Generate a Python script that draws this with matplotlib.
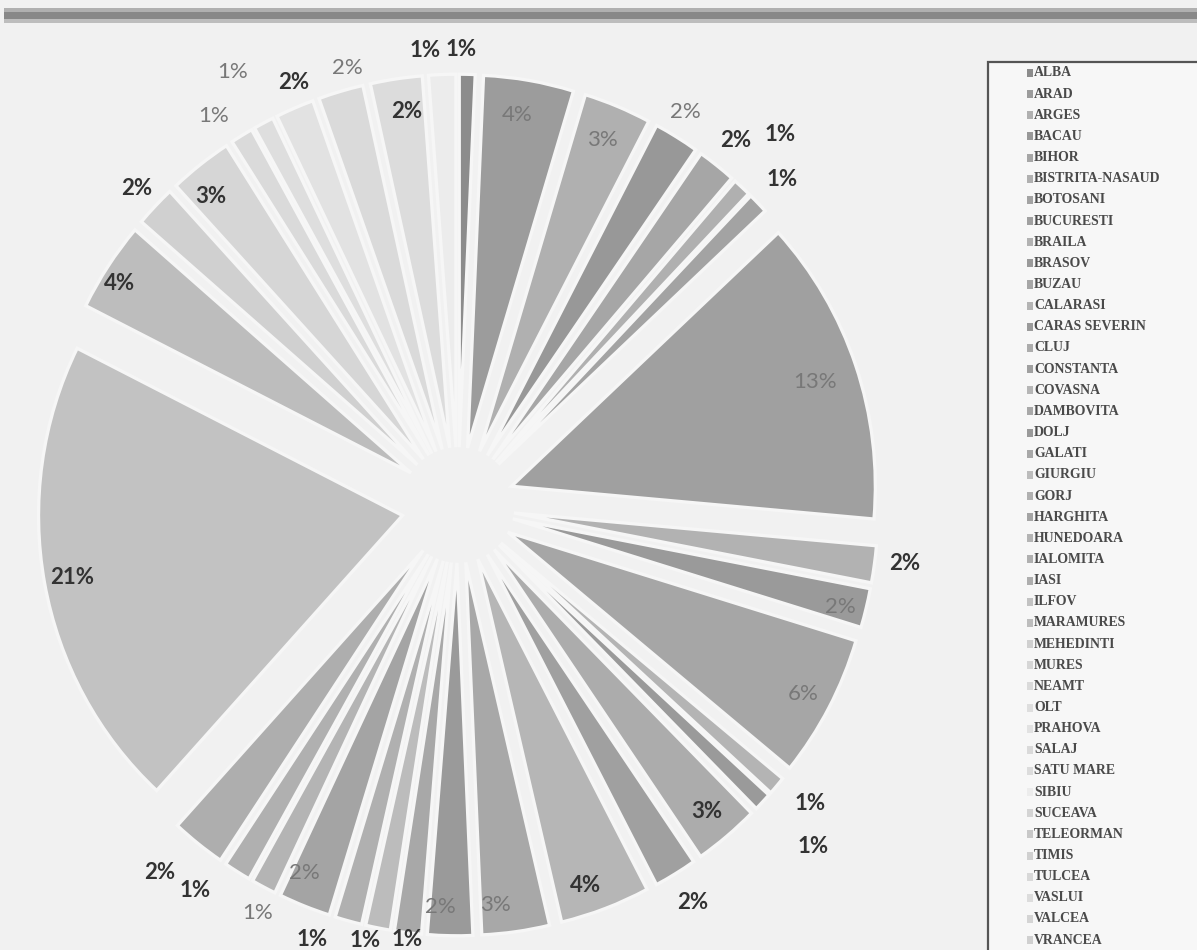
import numpy as np
import matplotlib
matplotlib.use("Agg")
import matplotlib.pyplot as plt
from matplotlib.patches import Rectangle

# ---------------- data ----------------
counties = ["ALBA", "ARAD", "ARGES", "BACAU", "BIHOR", "BISTRITA-NASAUD", "BOTOSANI",
            "BUCURESTI", "BRAILA", "BRASOV", "BUZAU", "CALARASI", "CARAS SEVERIN", "CLUJ",
            "CONSTANTA", "COVASNA", "DAMBOVITA", "DOLJ", "GALATI", "GIURGIU", "GORJ",
            "HARGHITA", "HUNEDOARA", "IALOMITA", "IASI", "ILFOV", "MARAMURES", "MEHEDINTI",
            "MURES", "NEAMT", "OLT", "PRAHOVA", "SALAJ", "SATU MARE", "SIBIU", "SUCEAVA",
            "TELEORMAN", "TIMIS", "TULCEA", "VASLUI", "VALCEA", "VRANCEA"]

# shares in percent (blank cells for the last counties -> no slice)
shares = [0.7, 4.0, 3.0, 2.0, 1.7, 0.8, 0.9,
          13.3, 1.6, 1.7, 6.2, 0.8, 0.8, 2.9,
          1.9, 4.0, 3.0, 2.0, 1.2, 1.1, 1.2,
          2.3, 1.1, 1.2, 2.4, 20.6, 3.9, 1.8,
          2.8, 1.0, 0.9, 1.7, 2.0, 2.3, 1.2, None,
          None, None, None, None, None, None]

# ---------------- style ----------------
slice_colors = ["#8c8c8c", "#9c9c9c", "#b0b0b0", "#989898", "#a6a6a6", "#b0b0b0", "#a3a3a3",
                "#a0a0a0", "#b2b2b2", "#9a9a9a", "#a6a6a6", "#b4b4b4", "#9a9a9a", "#acacac",
                "#a0a0a0", "#b6b6b6", "#a8a8a8", "#9a9a9a", "#a8a8a8", "#bcbcbc", "#b0b0b0",
                "#a4a4a4", "#b4b4b4", "#b0b0b0", "#aeaeae", "#c2c2c2", "#bdbdbd", "#d0d0d0",
                "#d6d6d6", "#dadada", "#dedede", "#e2e2e2", "#dadada", "#dcdcdc", "#ececec",
                "#d4d4d4", "#c8c8c8", "#d0d0d0", "#d8d8d8", "#dcdcdc", "#d4d4d4", "#d0d0d0"]
dark, grey = "#333333", "#787878"
label_colors = [dark, grey, grey, grey, dark, dark, dark,
                grey, dark, grey, grey, dark, dark, dark,
                dark, dark, grey, grey, dark, dark, dark,
                grey, grey, dark, dark, dark, dark, dark,
                dark, grey, grey, dark, grey, dark, dark]
label_radius = [1.22, 1.058, 1.056, 1.225, 1.24, 1.33, 1.246,
                1.035, 1.238, 1.084, 1.076, 1.254, 1.339, 1.07,
                1.245, 1.077, 1.077, 1.079, 1.174, 1.194, 1.233,
                1.072, 1.224, 1.26, 1.28, 1.078, 1.103, 1.225,
                1.071, 1.241, 1.315, 1.219, 1.211, 1.065, 1.223]
label_shift_deg = [-0.8, -0.9, -0.3, -0.7, 0, -0.8, 0,
                   0.3, -0.7, 0.7, 0, -1.1, -0.4, 0,
                   0, 1.6, 2.5, 1.5, 0, 1.3, 3.9,
                   1.7, -0.8, 3.3, 1.6, 0, -1.1, 0,
                   -1.6, -1.8, -0.5, 1.1, 1.6, 0.9, -2.1]

W, H = 1197, 950
fig = plt.figure(figsize=(W / 100, H / 100), dpi=100)
fig.patch.set_facecolor("#f1f1f1")

# axes placed so that pie centre is at pixel (458, 505); 364 px/unit horiz, 373 px/unit vert
sx, sy = 364.0, 373.0
cx, cy = 458.0, 505.0
lim = 1.2
ax_left = (cx - lim * sx) / W
ax_w = 2 * lim * sx / W
ax_bottom = (H - cy - lim * sy) / H
ax_h = 2 * lim * sy / H
ax = fig.add_axes([ax_left, ax_bottom, ax_w, ax_h])
ax.set_facecolor("none")

vals = [v for v in shares if v is not None]
n = len(vals)
wedges, _ = ax.pie(vals, colors=slice_colors[:n], startangle=90, counterclock=False,
                   explode=[0.155] * n, radius=1.0,
                   wedgeprops=dict(edgecolor="#f6f6f6", linewidth=2.4))
ax.set_aspect("auto")
ax.set_xlim(-lim, lim)
ax.set_ylim(-lim, lim)
ax.axis("off")

total = sum(vals)
for i, w in enumerate(wedges):
    mid = np.deg2rad((w.theta1 + w.theta2) / 2.0 - label_shift_deg[i])
    r = label_radius[i]
    pct = vals[i] / total * 100
    ax.text(r * np.cos(mid), r * np.sin(mid), f"{pct:.0f}%", ha="center", va="center",
            fontsize=16, family="Lato", color=label_colors[i],
            fontweight="bold" if label_colors[i] == dark else "normal", clip_on=False)

# top scan band
def px_rect(x0, y0, x1, y1, **kw):
    fig.add_artist(Rectangle((x0 / W, 1 - y1 / H), (x1 - x0) / W, (y1 - y0) / H,
                             transform=fig.transFigure, **kw))

px_rect(4, 8, W, 12, facecolor="#b0b0b0", edgecolor="none")
px_rect(4, 12, W, 19, facecolor="#888888", edgecolor="none")
px_rect(4, 19, W, 23, facecolor="#bdbdbd", edgecolor="none")

# legend box
px_rect(988, 62, W + 5, H + 5, facecolor="#f7f7f7", edgecolor="#555555", linewidth=1.6)
y0, dy = 73.0, 21.15
for i, name in enumerate(counties):
    y = y0 + i * dy
    px_rect(1027, y - 4, 1033, y + 4, facecolor=slice_colors[i], edgecolor="none")
    fig.text(1034 / W, 1 - y / H, name, ha="left", va="center", fontsize=9.9,
             family="Liberation Serif", fontweight="bold", color="#4a4a4a")

fig.savefig("out.png", dpi=100, facecolor=fig.get_facecolor())
